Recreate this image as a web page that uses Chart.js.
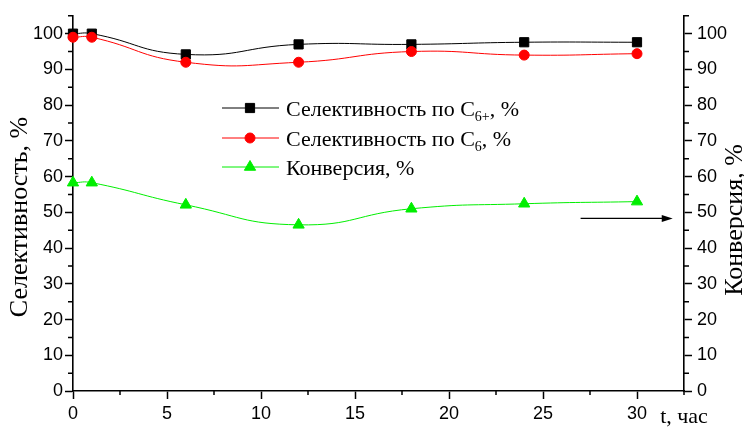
<!DOCTYPE html>
<html>
<head>
<meta charset="utf-8">
<script src="https://cdn.jsdelivr.net/npm/chart.js@4.4.0/dist/chart.umd.min.js"></script>
<style>
  html, body { margin: 0; padding: 0; background: #fff; }
</style>
</head>
<body>
<canvas id="chart" width="744" height="427"></canvas>
<script>
/* data */
const hours = [0, 1, 6, 12, 18, 24, 30];
const selC6plus = [100, 100, 94.2, 97, 97, 97.6, 97.6];
const selC6 = [99, 99, 92, 92, 95, 94, 94.4];
const conversion = [58.3, 58.3, 52.1, 46.5, 51, 52.4, 53];

// legend text split as [main, subscript, rest]
const legendRows = [
  ['Селективность по C', '6+', ', %'],
  ['Селективность по C', '6', ', %'],
  ['Конверсия, %', '', '']
];
const yTitle = 'Селективность, %';
const y2Title = 'Конверсия, %';
const xTitle = 't, час';
// arrow pointing at right axis (data units)
const arrowFrom = { x: 27, y: 48.3 };
const arrowTo = { x: 31.9, y: 48.3 };

const SANS = 'Liberation Sans';
const SERIF = 'Liberation Serif';

function pts(arr) {
  return hours.map((h, i) => ({ x: h, y: arr[i] }));
}

const series = [
  { label: 'C6+', data: pts(selC6plus), color: '#000000', style: 'rect', radius: 6.5, axis: 'y', order: 2 },
  { label: 'C6', data: pts(selC6), color: '#ff0000', style: 'circle', radius: 5, axis: 'y', order: 1 },
  { label: 'conv', data: pts(conversion), color: '#00ee00', style: 'triangle', radius: 6.5, axis: 'y2', order: 3 }
];

function majorY(v) { return v % 10 === 0; }
function majorX(v) { return v % 5 === 0; }

function axisOpts(pos, isMajor, size) {
  return {
    type: 'linear',
    position: pos,
    min: 0,
    max: pos === 'bottom' ? 32.5 : 105,
    ticks: {
      stepSize: pos === 'bottom' ? 2.5 : 5,
      autoSkip: false,
      maxRotation: 0,
      color: '#000',
      padding: pos === 'bottom' ? 4 : (pos === 'left' ? 2 : 5),
      font: { family: SANS, size: 18 },
      callback: (v) => isMajor(v) ? v : ''
    },
    grid: {
      drawOnChartArea: false,
      drawTicks: true,
      tickLength: 8,
      tickWidth: 1.5,
      tickColor: (c) => (c.tick && isMajor(c.tick.value)) ? '#000' : 'rgba(0,0,0,0)'
    },
    border: { display: true, color: '#000', width: 1.6 },
    afterFit: (s) => {
      if (pos === 'bottom') s.height = size; else s.width = size;
    }
  };
}

/* minor ticks, titles, legend, arrow */
const decor = {
  id: 'decor',
  afterDraw(chart) {
    const ctx = chart.ctx;
    const xs = chart.scales.x, ys = chart.scales.y, y2 = chart.scales.y2;
    ctx.save();
    ctx.strokeStyle = '#000';
    ctx.lineWidth = 1.5;
    ctx.beginPath();
    xs.ticks.forEach(t => {
      if (majorX(t.value)) return;
      const px = xs.getPixelForValue(t.value);
      ctx.moveTo(px, xs.top); ctx.lineTo(px, xs.top + 4);
    });
    ys.ticks.forEach(t => {
      if (majorY(t.value)) return;
      const py = ys.getPixelForValue(t.value);
      ctx.moveTo(ys.right, py); ctx.lineTo(ys.right - 5, py);
    });
    y2.ticks.forEach(t => {
      if (majorY(t.value)) return;
      const py = y2.getPixelForValue(t.value);
      ctx.moveTo(y2.left, py); ctx.lineTo(y2.left + 5, py);
    });
    ctx.stroke();

    // axis titles
    ctx.fillStyle = '#000';
    ctx.font = '26px ' + SERIF;
    ctx.textAlign = 'center';
    ctx.textBaseline = 'middle';
    ctx.save();
    ctx.translate(20, 217);
    ctx.rotate(-Math.PI / 2);
    ctx.fillText(yTitle, 0, 0);
    ctx.restore();
    ctx.save();
    ctx.translate(735, 220);
    ctx.rotate(-Math.PI / 2);
    ctx.fillText(y2Title, 0, 0);
    ctx.restore();
    ctx.font = '22px ' + SERIF;
    ctx.fillText(xTitle, 684, 417);

    // arrow
    const ax0 = xs.getPixelForValue(arrowFrom.x), ay = ys.getPixelForValue(arrowFrom.y);
    const ax1 = xs.getPixelForValue(arrowTo.x);
    ctx.lineWidth = 1.3;
    ctx.beginPath();
    ctx.moveTo(ax0, ay); ctx.lineTo(ax1 - 8, ay);
    ctx.stroke();
    ctx.beginPath();
    ctx.moveTo(ax1, ay); ctx.lineTo(ax1 - 11, ay - 3.5); ctx.lineTo(ax1 - 11, ay + 3.5);
    ctx.closePath();
    ctx.fill();

    // legend
    const rowY = [108, 138, 167];
    ctx.textAlign = 'left';
    ctx.textBaseline = 'alphabetic';
    legendRows.forEach((row, i) => {
      const s = series[i];
      const y = rowY[i];
      ctx.strokeStyle = s.color;
      ctx.fillStyle = s.color;
      ctx.lineWidth = 1;
      ctx.beginPath();
      ctx.moveTo(222, y); ctx.lineTo(279, y);
      ctx.stroke();
      Chart.helpers.drawPoint(ctx, { pointStyle: s.style, radius: s.radius, rotation: 0, borderWidth: 1 }, 250, y);
      ctx.fillStyle = '#000';
      let x = 286;
      ctx.font = '22px ' + SERIF;
      ctx.fillText(row[0], x, y + 8);
      x += ctx.measureText(row[0]).width;
      if (row[1]) {
        ctx.font = '14px ' + SERIF;
        ctx.fillText(row[1], x, y + 13);
        x += ctx.measureText(row[1]).width;
      }
      if (row[2]) {
        ctx.font = '22px ' + SERIF;
        ctx.fillText(row[2], x, y + 8);
      }
    });
    ctx.restore();
  }
};

new Chart(document.getElementById('chart'), {
  type: 'line',
  data: {
    datasets: series.map(s => ({
      label: s.label,
      data: s.data,
      yAxisID: s.axis,
      order: s.order,
      clip: false,
      borderColor: s.color,
      backgroundColor: s.color,
      borderWidth: 1,
      pointStyle: s.style,
      pointRadius: s.radius,
      pointBorderWidth: 1,
      tension: 0.5,
      fill: false
    }))
  },
  options: {
    responsive: false,
    animation: false,
    devicePixelRatio: 1,
    layout: { padding: { top: 15, left: 0, right: 0, bottom: 0 } },
    plugins: { legend: { display: false }, tooltip: { enabled: false } },
    scales: {
      x: axisOpts('bottom', majorX, 36),
      y: axisOpts('left', majorY, 73),
      y2: axisOpts('right', majorY, 60)
    }
  },
  plugins: [decor]
});
</script>
</body>
</html>
